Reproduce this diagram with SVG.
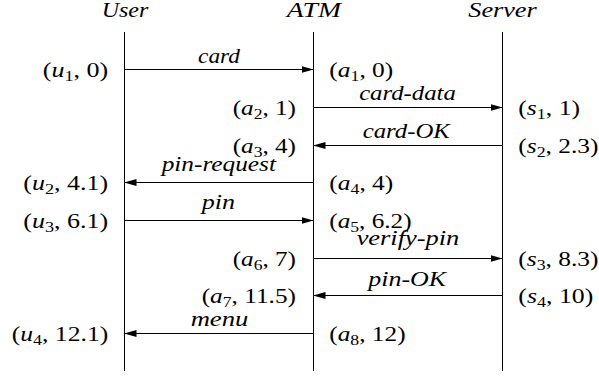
<svg xmlns="http://www.w3.org/2000/svg" width="599" height="376" viewBox="0 0 599 376">
<style>
text{font-size:20px;fill:#000}
.it{font-style:italic}
.sub{font-size:14px}
.life{stroke:#000;stroke-width:1;fill:none}
.msg{stroke:#000;stroke-width:1;fill:none;marker-end:url(#ah)}
</style>
<defs>
<marker id="ah" markerUnits="userSpaceOnUse" markerWidth="12" markerHeight="8" refX="12" refY="4" orient="auto">
<path d="M0,0.5 L12,4 L0,7.5 z" fill="#000"/>
</marker>
</defs>
<g id="user" font-family="Liberation Serif, serif">
<text class="it" x="125" y="17" text-anchor="middle" textLength="46.7" lengthAdjust="spacingAndGlyphs">User</text>
<line class="life" x1="124.5" y1="32" x2="124.5" y2="371"/>
</g>
<g id="atm" font-family="Liberation Serif, serif">
<text class="it" x="313.8" y="17" text-anchor="middle" textLength="54.3" lengthAdjust="spacingAndGlyphs">ATM</text>
<line class="life" x1="313.5" y1="32" x2="313.5" y2="371"/>
</g>
<g id="server" font-family="Liberation Serif, serif">
<text class="it" x="502.5" y="17" text-anchor="middle" textLength="68.4" lengthAdjust="spacingAndGlyphs">Server</text>
<line class="life" x1="502.5" y1="32" x2="502.5" y2="371"/>
</g>
<g id="connectors" font-family="Liberation Serif, serif">
<path class="msg" d="M124.5,69.5 H313.5"/>
<path class="msg" d="M313.5,107.5 H502.5"/>
<path class="msg" d="M502.5,145.5 H313.5"/>
<path class="msg" d="M313.5,182.5 H124.5"/>
<path class="msg" d="M124.5,220.5 H313.5"/>
<path class="msg" d="M313.5,258.5 H502.5"/>
<path class="msg" d="M502.5,295.5 H313.5"/>
<path class="msg" d="M313.5,333.5 H124.5"/>
<text class="it" x="219" y="62.5" text-anchor="middle" textLength="42" lengthAdjust="spacingAndGlyphs">card</text>
<text class="it" x="407.5" y="100" text-anchor="middle" textLength="96.7" lengthAdjust="spacingAndGlyphs">card-data</text>
<text class="it" x="406.3" y="137.5" text-anchor="middle" textLength="87.3" lengthAdjust="spacingAndGlyphs">card-OK</text>
<text class="it" x="218.8" y="170.5" text-anchor="middle" textLength="114.3" lengthAdjust="spacingAndGlyphs">pin-request</text>
<text class="it" x="218.4" y="209" text-anchor="middle" textLength="33.3" lengthAdjust="spacingAndGlyphs">pin</text>
<text class="it" x="408" y="245" text-anchor="middle" textLength="102.7" lengthAdjust="spacingAndGlyphs">verify-pin</text>
<text class="it" x="407.2" y="285.7" text-anchor="middle" textLength="77.7" lengthAdjust="spacingAndGlyphs">pin-OK</text>
<text class="it" x="219.5" y="326" text-anchor="middle" textLength="57.7" lengthAdjust="spacingAndGlyphs">menu</text>
</g>
<g id="events" font-family="Liberation Serif, serif">
<text x="42.7" y="77" textLength="65.6" lengthAdjust="spacingAndGlyphs">(<tspan class="it">u</tspan><tspan class="sub" dy="4">1</tspan><tspan dy="-4">, 0)</tspan></text>
<text x="23.3" y="190" textLength="85" lengthAdjust="spacingAndGlyphs">(<tspan class="it">u</tspan><tspan class="sub" dy="4">2</tspan><tspan dy="-4">, 4.1)</tspan></text>
<text x="23.3" y="228" textLength="85" lengthAdjust="spacingAndGlyphs">(<tspan class="it">u</tspan><tspan class="sub" dy="4">3</tspan><tspan dy="-4">, 6.1)</tspan></text>
<text x="11.7" y="341" textLength="96.6" lengthAdjust="spacingAndGlyphs">(<tspan class="it">u</tspan><tspan class="sub" dy="4">4</tspan><tspan dy="-4">, 12.1)</tspan></text>
<text x="232.7" y="115" textLength="63.3" lengthAdjust="spacingAndGlyphs">(<tspan class="it">a</tspan><tspan class="sub" dy="4">2</tspan><tspan dy="-4">, 1)</tspan></text>
<text x="232.7" y="152.5" textLength="63.3" lengthAdjust="spacingAndGlyphs">(<tspan class="it">a</tspan><tspan class="sub" dy="4">3</tspan><tspan dy="-4">, 4)</tspan></text>
<text x="232.7" y="266" textLength="63.3" lengthAdjust="spacingAndGlyphs">(<tspan class="it">a</tspan><tspan class="sub" dy="4">6</tspan><tspan dy="-4">, 7)</tspan></text>
<text x="201.7" y="303" textLength="94.3" lengthAdjust="spacingAndGlyphs">(<tspan class="it">a</tspan><tspan class="sub" dy="4">7</tspan><tspan dy="-4">, 11.5)</tspan></text>
<text x="329.3" y="77" textLength="64" lengthAdjust="spacingAndGlyphs">(<tspan class="it">a</tspan><tspan class="sub" dy="4">1</tspan><tspan dy="-4">, 0)</tspan></text>
<text x="329.3" y="190" textLength="64" lengthAdjust="spacingAndGlyphs">(<tspan class="it">a</tspan><tspan class="sub" dy="4">4</tspan><tspan dy="-4">, 4)</tspan></text>
<text x="329.3" y="228" textLength="82.3" lengthAdjust="spacingAndGlyphs">(<tspan class="it">a</tspan><tspan class="sub" dy="4">5</tspan><tspan dy="-4">, 6.2)</tspan></text>
<text x="329.3" y="341" textLength="76.3" lengthAdjust="spacingAndGlyphs">(<tspan class="it">a</tspan><tspan class="sub" dy="4">8</tspan><tspan dy="-4">, 12)</tspan></text>
<text x="518.3" y="115" textLength="61.7" lengthAdjust="spacingAndGlyphs">(<tspan class="it">s</tspan><tspan class="sub" dy="4">1</tspan><tspan dy="-4">, 1)</tspan></text>
<text x="518.3" y="152.5" textLength="80.2" lengthAdjust="spacingAndGlyphs">(<tspan class="it">s</tspan><tspan class="sub" dy="4">2</tspan><tspan dy="-4">, 2.3)</tspan></text>
<text x="518.3" y="266" textLength="80.2" lengthAdjust="spacingAndGlyphs">(<tspan class="it">s</tspan><tspan class="sub" dy="4">3</tspan><tspan dy="-4">, 8.3)</tspan></text>
<text x="518.3" y="303" textLength="75" lengthAdjust="spacingAndGlyphs">(<tspan class="it">s</tspan><tspan class="sub" dy="4">4</tspan><tspan dy="-4">, 10)</tspan></text>
</g>
</svg>
